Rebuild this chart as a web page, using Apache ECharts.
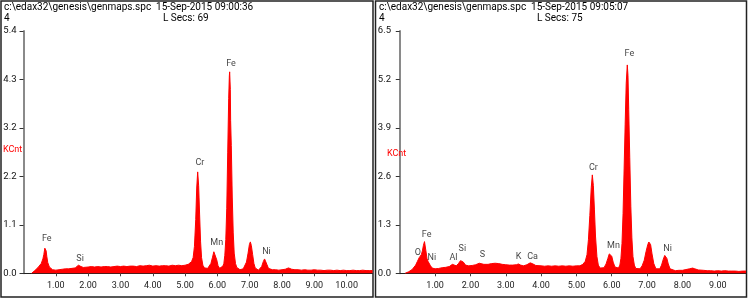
<!DOCTYPE html>
<html>
<head>
<meta charset="utf-8">
<script src="https://cdn.jsdelivr.net/npm/echarts@6/dist/echarts.min.js"></script>
<style>
  html, body { margin: 0; padding: 0; background: #fff; }
  #chart { width: 748px; height: 300px; }
</style>
</head>
<body>
<div id="chart"></div>
<script>
// left spectrum (15-Sep-2015 09:00:36), energy in keV, intensity in KCnt
const leftKeV = [
  0.25, 0.30, 0.35, 0.40, 0.45, 0.50, 0.55, 0.60, 0.63, 0.66, 0.68, 0.70, 0.72, 0.75, 0.80, 0.85, 0.90,
  1.00, 1.10, 1.20, 1.30, 1.40, 1.50, 1.60, 1.65, 1.70, 1.74, 1.78, 1.85, 1.90,
  2.00, 2.10, 2.20, 2.30, 2.40, 2.50, 2.60, 2.70, 2.80, 2.90, 3.00, 3.10, 3.20, 3.30, 3.40, 3.50,
  3.60, 3.70, 3.80, 3.90, 4.00, 4.10, 4.20, 4.30, 4.40, 4.50, 4.60, 4.70, 4.80, 4.90, 5.00, 5.10, 5.15,
  5.20, 5.25, 5.29, 5.33, 5.36, 5.39, 5.42, 5.45, 5.48, 5.51, 5.55, 5.60, 5.65, 5.70,
  5.75, 5.80, 5.85, 5.89, 5.91, 5.94, 5.98, 6.02, 6.07, 6.12,
  6.17, 6.20, 6.23, 6.26, 6.29, 6.32, 6.35, 6.37, 6.38, 6.40, 6.41, 6.43, 6.46, 6.49, 6.52, 6.56, 6.60, 6.65, 6.70,
  6.75, 6.80, 6.85, 6.90, 6.95, 6.99, 7.02, 7.05, 7.09, 7.13, 7.17, 7.22, 7.27,
  7.32, 7.37, 7.42, 7.46, 7.49, 7.53, 7.58, 7.63, 7.70,
  7.80, 7.90, 8.00, 8.10, 8.20, 8.25, 8.30, 8.40, 8.50, 8.60, 8.70, 8.80, 8.90, 9.00, 9.10, 9.20,
  9.30, 9.40, 9.50, 9.60, 9.70, 9.80, 9.90, 10.00, 10.10, 10.20, 10.30, 10.40, 10.50, 10.60, 10.70, 10.80
];
const leftKCnt = [
  0.00, 0.03, 0.06, 0.09, 0.13, 0.17, 0.22, 0.32, 0.42, 0.56, 0.59, 0.50, 0.38, 0.24, 0.14, 0.10, 0.08,
  0.07, 0.08, 0.09, 0.10, 0.10, 0.11, 0.12, 0.14, 0.18, 0.19, 0.15, 0.13, 0.13,
  0.14, 0.15, 0.14, 0.15, 0.14, 0.15, 0.15, 0.14, 0.15, 0.16, 0.15, 0.16, 0.15, 0.16, 0.16, 0.15,
  0.17, 0.16, 0.17, 0.18, 0.16, 0.17, 0.16, 0.17, 0.17, 0.16, 0.18, 0.17, 0.18, 0.17, 0.18, 0.20, 0.24,
  0.26, 0.35, 0.60, 1.20, 1.90, 2.26, 1.95, 1.30, 0.70, 0.35, 0.18, 0.12, 0.10, 0.11,
  0.14, 0.22, 0.36, 0.48, 0.50, 0.45, 0.30, 0.17, 0.11, 0.12,
  0.16, 0.22, 0.40, 0.75, 1.45, 2.70, 3.90, 4.40, 4.49, 4.10, 3.40, 2.85, 1.70, 0.90, 0.45, 0.22, 0.13, 0.09, 0.08,
  0.09, 0.10, 0.14, 0.25, 0.45, 0.64, 0.70, 0.62, 0.42, 0.22, 0.12, 0.08, 0.07,
  0.09, 0.15, 0.26, 0.32, 0.30, 0.20, 0.11, 0.08, 0.08,
  0.08, 0.07, 0.08, 0.09, 0.12, 0.10, 0.09, 0.08, 0.08, 0.07, 0.08, 0.07, 0.07, 0.08, 0.07, 0.07,
  0.06, 0.07, 0.07, 0.06, 0.07, 0.06, 0.07, 0.06, 0.06, 0.07, 0.06, 0.06, 0.07, 0.06, 0.06, 0.06
];

// right spectrum (15-Sep-2015 09:05:07)
const rightKeV = [
  0.15, 0.20, 0.25, 0.30, 0.35, 0.40, 0.45, 0.50, 0.55, 0.58, 0.61, 0.64, 0.67, 0.70, 0.72, 0.74, 0.77,
  0.80, 0.83, 0.87, 0.92, 1.00, 1.10, 1.20, 1.30, 1.40, 1.45, 1.49, 1.53, 1.60, 1.66, 1.72, 1.76, 1.80,
  1.86, 1.95, 2.05, 2.15, 2.25, 2.30, 2.38, 2.50, 2.60, 2.70, 2.80, 2.90, 3.00, 3.10, 3.20, 3.30, 3.36,
  3.42, 3.50, 3.60, 3.69, 3.75, 3.85, 4.00, 4.10, 4.20, 4.30, 4.40, 4.50, 4.60, 4.70, 4.80, 4.90, 5.00,
  5.10, 5.18, 5.25, 5.30, 5.34, 5.38, 5.42, 5.45, 5.48, 5.51, 5.54, 5.58, 5.62, 5.67, 5.72,
  5.78, 5.84, 5.89, 5.93, 5.96, 6.00, 6.04, 6.09, 6.14, 6.19,
  6.23, 6.26, 6.29, 6.32, 6.35, 6.38, 6.41, 6.44, 6.46, 6.48, 6.51, 6.54, 6.57, 6.60, 6.64, 6.68, 6.73,
  6.80, 6.86, 6.92, 6.97, 7.02, 7.05, 7.07, 7.10, 7.14, 7.19, 7.25, 7.30,
  7.36, 7.41, 7.46, 7.50, 7.52, 7.56, 7.60, 7.65, 7.70, 7.80, 7.90, 8.00, 8.10, 8.20, 8.29, 8.35,
  8.45, 8.60, 8.70, 8.80, 8.90, 9.00, 9.10, 9.20, 9.30, 9.40, 9.50, 9.60, 9.70, 9.80
];
const rightKCnt = [
  0.00, 0.02, 0.04, 0.07, 0.10, 0.15, 0.22, 0.32, 0.42, 0.46, 0.50, 0.60, 0.75, 0.85, 0.80, 0.60, 0.40,
  0.32, 0.28, 0.20, 0.14, 0.12, 0.13, 0.15, 0.16, 0.18, 0.22, 0.24, 0.20, 0.20, 0.26, 0.34, 0.36, 0.30,
  0.22, 0.20, 0.21, 0.23, 0.27, 0.28, 0.24, 0.24, 0.26, 0.27, 0.26, 0.24, 0.23, 0.22, 0.22, 0.23, 0.25,
  0.22, 0.20, 0.23, 0.28, 0.26, 0.21, 0.20, 0.19, 0.20, 0.19, 0.20, 0.19, 0.20, 0.19, 0.20, 0.19, 0.20,
  0.20, 0.24, 0.32, 0.50, 0.90, 1.55, 2.30, 2.64, 2.35, 1.70, 1.00, 0.45, 0.22, 0.14, 0.12,
  0.15, 0.25, 0.40, 0.52, 0.54, 0.46, 0.30, 0.17, 0.12, 0.14,
  0.22, 0.40, 0.80, 1.60, 2.80, 4.00, 5.10, 5.59, 5.30, 4.40, 3.10, 1.80, 0.95, 0.45, 0.22, 0.13, 0.10,
  0.12, 0.20, 0.35, 0.58, 0.77, 0.84, 0.85, 0.77, 0.52, 0.26, 0.12, 0.09,
  0.12, 0.22, 0.38, 0.48, 0.49, 0.40, 0.25, 0.12, 0.08, 0.07, 0.08, 0.08, 0.10, 0.12, 0.14, 0.12,
  0.09, 0.08, 0.07, 0.07, 0.06, 0.07, 0.06, 0.07, 0.06, 0.06, 0.06, 0.05, 0.06, 0.06
];

// element labels: text and where its centre sits (keV, KCnt)
const leftElements = ["Fe", "Si", "Cr", "Mn", "Fe", "Ni"];
const leftElemKeV = [0.72, 1.75, 5.46, 5.98, 6.42, 7.52];
const leftElemKCnt = [0.76, 0.33, 2.47, 0.69, 4.68, 0.47];
const rightElements = ["O", "Fe", "Ni", "Al", "Si", "S", "K", "Ca", "Cr", "Mn", "Fe", "Ni"];
const rightElemKeV = [0.51, 0.76, 0.91, 1.52, 1.77, 2.34, 3.36, 3.76, 5.48, 6.05, 6.50, 7.58];
const rightElemKCnt = [0.54, 1.03, 0.42, 0.43, 0.65, 0.49, 0.45, 0.45, 2.82, 0.73, 5.88, 0.66];

// axis ticks
const leftYMax = 5.4, rightYMax = 6.5;
const leftXTicks = [1, 2, 3, 4, 5, 6, 7, 8, 9, 10];
const rightXTicks = [1, 2, 3, 4, 5, 6, 7, 8, 9];

const headers = [
  "c:\\edax32\\genesis\\genmaps.spc  15-Sep-2015 09:00:36",
  "c:\\edax32\\genesis\\genmaps.spc  15-Sep-2015 09:05:07"
];
const liveSecs = ["L Secs: 69", "L Secs: 75"];

const FONT = "Roboto";
const chart = echarts.init(document.getElementById("chart"), null, { renderer: "canvas" });

const pairs = (xs, ys) => xs.map((x, i) => [x, ys[i]]);
const labelPoints = (names, xs, ys) => names.map((n, i) => ({ name: n, value: [xs[i], ys[i]] }));

function xAxisFor(gridIndex, min, max, ticks) {
  return {
    gridIndex, type: "value", min, max,
    axisLine: { show: true, lineStyle: { color: "#222", width: 1 } },
    axisTick: { show: true, length: 3, customValues: ticks, lineStyle: { color: "#444" } },
    axisLabel: {
      customValues: ticks, margin: 8, fontSize: 9, color: "#222", fontFamily: FONT,
      formatter: (v) => v.toFixed(2),
    },
    splitLine: { show: false },
  };
}
function yAxisFor(gridIndex, max) {
  return {
    gridIndex, type: "value", min: 0, max, interval: max / 5,
    axisLine: { show: true, lineStyle: { color: "#8a8a8a", width: 2 } },
    axisTick: { show: true, length: 4, lineStyle: { color: "#333" } },
    axisLabel: {
      margin: 7, fontSize: 9.5, color: "#111", fontFamily: FONT,
      formatter: (v) => v.toFixed(1),
    },
    splitLine: { show: false },
  };
}
function spectrum(idx, xs, ys) {
  return {
    type: "line", xAxisIndex: idx, yAxisIndex: idx, data: pairs(xs, ys),
    symbol: "none", silent: true,
    lineStyle: { color: "#ff0000", width: 1 },
    areaStyle: { color: "#ff0000", opacity: 1 },
  };
}
function elementLabels(idx, names, xs, ys) {
  return {
    type: "scatter", xAxisIndex: idx, yAxisIndex: idx, silent: true,
    symbolSize: 1, itemStyle: { color: "rgba(0,0,0,0)" },
    data: labelPoints(names, xs, ys),
    label: {
      show: true, position: "inside", formatter: (p) => p.name,
      fontSize: 9, color: "#111", fontFamily: FONT,
    },
  };
}

const headText = (text, left, top, color, size) => ({
  text, left, top, padding: 0,
  textStyle: { fontSize: size || 10, fontWeight: "normal", color: color || "#000", fontFamily: FONT },
});

const option = {
  animation: false,
  backgroundColor: "#fff",
  title: [
    headText(headers[0], 4, 2), headText("4", 4, 13), headText(liveSecs[0], 163, 13),
    headText("KCnt", 3, 145, "#ff0000", 9),
    headText(headers[1], 379, 2), headText("4", 379, 13), headText(liveSecs[1], 537, 13),
    headText("KCnt", 387, 149, "#ff0000", 9),
  ],
  graphic: [
    { type: "rect", shape: { x: 1, y: 1, width: 372, height: 296 }, style: { fill: "none", stroke: "#222", lineWidth: 1.5 }, silent: true },
    { type: "rect", shape: { x: 375.5, y: 1, width: 371, height: 296 }, style: { fill: "none", stroke: "#222", lineWidth: 1.5 }, silent: true },
  ],
  grid: [
    { left: 23.5, top: 31, width: 349, height: 242.3 },
    { left: 398, top: 31, width: 348, height: 242.3 },
  ],
  xAxis: [
    xAxisFor(0, 0, 10.8, leftXTicks),
    xAxisFor(1, -0.05, 9.8, rightXTicks),
  ],
  yAxis: [
    yAxisFor(0, leftYMax),
    yAxisFor(1, rightYMax),
  ],
  series: [
    spectrum(0, leftKeV, leftKCnt),
    spectrum(1, rightKeV, rightKCnt),
    elementLabels(0, leftElements, leftElemKeV, leftElemKCnt),
    elementLabels(1, rightElements, rightElemKeV, rightElemKCnt),
  ],
};
chart.setOption(option);
</script>
</body>
</html>
